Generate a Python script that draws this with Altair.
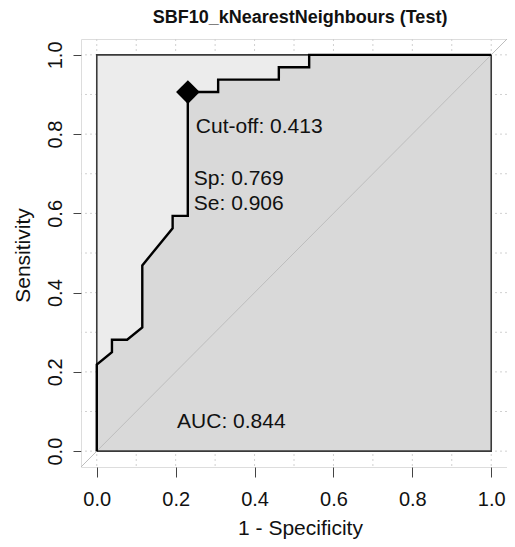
import altair as alt
import pandas as pd

# ROC curve (1 - specificity, sensitivity); 26 negatives, 32 positives
fpr = [0, 0, 1/26, 1/26, 2/26, 3/26, 3/26, 5/26, 5/26, 6/26, 6/26, 8/26, 8/26,
       12/26, 12/26, 14/26, 14/26, 1]
tpr = [0, 7/32, 8/32, 9/32, 9/32, 10/32, 15/32, 18/32, 19/32, 19/32, 29/32,
       29/32, 30/32, 30/32, 31/32, 31/32, 1, 1]

best_fpr = [1 - 0.769]
best_tpr = [0.906]

grid_vals = [round(i * 0.1, 1) for i in range(11)]
tick_vals = [0.0, 0.2, 0.4, 0.6, 0.8, 1.0]

ann_text = ["Cut-off: 0.413", "Sp: 0.769", "Se: 0.906", "AUC: 0.844"]
ann_x = [0.251, 0.246, 0.246, 0.2035]
ann_y = [0.803, 0.672, 0.609, 0.058]

roc = pd.DataFrame({"fpr": fpr, "tpr": tpr, "ord": list(range(len(fpr)))})
# polygon under the curve: the curve, closed along the bottom edge
poly = pd.DataFrame({"fpr": fpr + [1.0], "tpr": tpr + [0.0],
                     "ord": list(range(len(fpr) + 1))})
best = pd.DataFrame({"fpr": best_fpr, "tpr": best_tpr})
grid = pd.DataFrame({"v": grid_vals})
ann = pd.DataFrame({"t": ann_text, "x": ann_x, "y": ann_y})
diag = pd.DataFrame({"x": [-0.04, 1.04], "y": [-0.04, 1.04]})
box = pd.DataFrame({"x": [0.0], "x2": [1.0], "y": [0.0], "y2": [1.0]})

FONT = "Liberation Sans"
W, H = 426, 428
xs = alt.Scale(domain=[-0.04, 1.04], nice=False, zero=False)
ys = alt.Scale(domain=[-0.04, 1.04], nice=False, zero=False)

xaxis = alt.Axis(values=tick_vals, format=".1f", title="1 - Specificity", grid=False,
                 domain=False, tickSize=10, tickColor="#444", tickWidth=1,
                 labelFont=FONT, labelFontSize=20, labelColor="#111", labelPadding=12,
                 titleFont=FONT, titleFontSize=21, titleFontWeight="normal", titleColor="#111",
                 titleBaseline="alphabetic", titleAlign="center", titleX=219, titleY=67)
yaxis = alt.Axis(values=tick_vals, format=".1f", title="Sensitivity", grid=False,
                 domain=False, tickSize=8, tickColor="#444", tickWidth=1,
                 labelFont=FONT, labelFontSize=20, labelColor="#111", labelPadding=12,
                 labelAngle=270, labelAlign="center", labelBaseline="alphabetic",
                 titleFont=FONT, titleFontSize=21, titleFontWeight="normal", titleColor="#111",
                 titleBaseline="alphabetic", titleX=-52, titleY=216, titleAngle=270)

gx = alt.Chart(grid).mark_rule(color="#d0d0d0", strokeDash=[2, 3], strokeWidth=1).encode(
    x=alt.X("v:Q", scale=xs, axis=xaxis))
gy = alt.Chart(grid).mark_rule(color="#d0d0d0", strokeDash=[2, 3], strokeWidth=1).encode(
    y=alt.Y("v:Q", scale=ys, axis=yaxis))

inner = alt.Chart(box).mark_rect(fill="#ececec").encode(
    x="x:Q", x2="x2:Q", y="y:Q", y2="y2:Q")

area = alt.Chart(poly).mark_line(fill="#d9d9d9", strokeOpacity=0, strokeWidth=0).encode(
    x="fpr:Q", y="tpr:Q", order="ord:Q")

border = alt.Chart(box).mark_rect(fill=None, stroke="#3a3a3a", strokeWidth=1.6).encode(
    x="x:Q", x2="x2:Q", y="y:Q", y2="y2:Q")

dline = alt.Chart(diag).mark_line(color="#bdbdbd", strokeWidth=1).encode(
    x="x:Q", y="y:Q")

curve = alt.Chart(roc).mark_line(color="#000000", strokeWidth=2.4).encode(
    x="fpr:Q", y="tpr:Q", order="ord:Q")

pt = alt.Chart(best).mark_point(shape="diamond", filled=True, color="#000000",
                                size=560, opacity=1).encode(x="fpr:Q", y="tpr:Q")

txt = alt.Chart(ann).mark_text(align="left", baseline="alphabetic", font=FONT,
                               fontSize=21, color="#111").encode(
    x="x:Q", y="y:Q", text="t:N")

chart = alt.layer(gx, gy, inner, area, border, dline, curve, pt, txt).properties(
    width=W, height=H,
    title=alt.TitleParams("SBF10_kNearestNeighbours (Test)", font=FONT, fontSize=18,
                          fontWeight="bold", color="#111", anchor="middle",
                          frame="group", offset=10, dx=6),
    autosize=alt.AutoSizeParams(type="none"),
    padding={"left": 73, "top": 31, "right": 0, "bottom": 72},
).configure_view(stroke="#555555", strokeWidth=1).configure(background="white")

chart.save("out.html", embed_options={"renderer": "svg", "actions": False})
